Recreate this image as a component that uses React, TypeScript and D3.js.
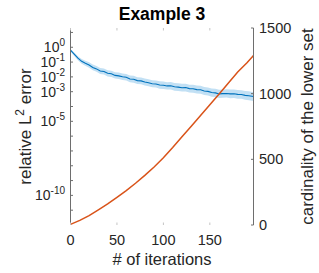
import React from 'react';
import * as d3 from 'd3';

// ---------- data ----------
const iterations = [0, 4, 8, 12, 16, 20, 24, 28, 32, 36, 40, 44, 48, 52, 56, 60, 64, 68, 72, 76, 80, 84, 88, 92, 96, 100, 104, 108, 112, 116, 120, 124, 128, 132, 136, 140, 144, 148, 152, 156, 160, 164, 168, 172, 176, 180, 184, 188, 192, 197];
// log10 of relative L2 error (mean)
const errLog10 = [-0.2, -0.47, -0.74, -0.95, -1.08, -1.2, -1.36, -1.46, -1.6, -1.64, -1.76, -1.79, -1.9, -1.93, -1.99, -2.03, -2.14, -2.16, -2.25, -2.27, -2.35, -2.4, -2.46, -2.48, -2.55, -2.56, -2.61, -2.6, -2.67, -2.69, -2.73, -2.72, -2.79, -2.8, -2.86, -2.87, -2.95, -2.98, -3.06, -3.08, -3.15, -3.13, -3.12, -3.15, -3.14, -3.18, -3.19, -3.25, -3.27, -3.33];
// half-width of the shaded band, in decades
const bandHalf = [0.08, 0.12, 0.14, 0.16, 0.17, 0.18, 0.19, 0.19, 0.2, 0.2, 0.21, 0.21, 0.21, 0.22, 0.22, 0.22, 0.23, 0.23, 0.23, 0.23, 0.24, 0.24, 0.24, 0.24, 0.25, 0.25, 0.25, 0.25, 0.26, 0.26, 0.26, 0.26, 0.26, 0.27, 0.27, 0.27, 0.27, 0.27, 0.28, 0.28, 0.28, 0.28, 0.28, 0.29, 0.29, 0.29, 0.29, 0.29, 0.3, 0.3];

const cardIters = [0, 10, 20, 30, 40, 50, 60, 70, 80, 90, 100, 110, 120, 130, 140, 150, 160, 170, 180, 190, 197];
const cardinality = [5, 35, 72, 115, 160, 210, 262, 318, 378, 442, 512, 590, 672, 752, 834, 915, 998, 1082, 1165, 1235, 1290];

const xTicks = [0, 50, 100, 150];
const leftTickExps = [0, -1, -2, -3, -5, -10];
const leftMinorExps = [1, 0, -1, -2, -3, -4, -5, -6, -7, -8, -9, -10, -11];
const rightTicks = [0, 500, 1000, 1500];

const title = 'Example 3';
const xLabel = '# of iterations';
const rightLabel = 'cardinality of the lower set';

// ---------- layout ----------
const W = 319, H = 273;
const L = 70.5, R = 253.5, T = 28, B = 225;
const FONT = '"Liberation Sans", Arial, Helvetica, sans-serif';
const TXT = '#262626';
const AX = '#6e6e6e';
const BLUE = '#0072BD';
const BAND = '#c2e0f4';
const ORANGE = '#D95319';

export default function App() {
  const x = d3.scaleLinear().domain([0, 197]).range([L, R]);
  const yL = d3.scaleLog().domain([1e-12, Math.pow(10, 1.3)]).range([B, T]);
  const yR = d3.scaleLinear().domain([0, 1500]).range([B, T]);

  const errPts = iterations.map((it, i) => ({ it, m: errLog10[i], h: bandHalf[i] }));
  const band = d3.area<{ it: number; m: number; h: number }>()
    .x(d => x(d.it))
    .y0(d => yL(Math.pow(10, d.m - d.h)))
    .y1(d => yL(Math.pow(10, d.m + d.h)))(errPts) || '';
  const blueLine = d3.line<{ it: number; m: number; h: number }>()
    .x(d => x(d.it))
    .y(d => yL(Math.pow(10, d.m)))(errPts) || '';
  const orangeLine = d3.line<number>()
    .x((_, i) => x(cardIters[i]))
    .y(d => yR(d))(cardinality) || '';

  return (
    <svg width={W} height={H} style={{ position: 'absolute', left: 0, top: 0, background: '#fff' }} fontFamily={FONT}>
      <rect x={0} y={0} width={W} height={H} fill="#fff" />
      {/* band & lines */}
      <path d={band} fill={BAND} stroke="none" />
      <path d={blueLine} fill="none" stroke={BLUE} strokeWidth={1.1} />
      <path d={orangeLine} fill="none" stroke={ORANGE} strokeWidth={1.5} />

      {/* axes lines */}
      <line x1={L} x2={L} y1={T} y2={B} stroke={AX} strokeWidth={1} />
      <line x1={R} x2={R} y1={T} y2={B} stroke={AX} strokeWidth={1} />

      {/* x ticks (top & bottom, faint) */}
      {xTicks.map(t => (
        <g key={'xt' + t}>
          <line x1={x(t)} x2={x(t)} y1={B} y2={B - 2.5} stroke="#c4c4c4" />
          <line x1={x(t)} x2={x(t)} y1={T} y2={T + 2.5} stroke="#c4c4c4" />
          <text x={x(t)} y={245} textAnchor="middle" fontSize={14.5} fill={TXT}>{t}</text>
        </g>
      ))}

      {/* left ticks */}
      {leftMinorExps.map(e => (
        <line key={'lm' + e} x1={L} x2={L + 2.5} y1={yL(Math.pow(10, e))} y2={yL(Math.pow(10, e))} stroke={AX} />
      ))}
      {leftTickExps.map(e => (
        <text key={'lt' + e} x={65} y={yL(Math.pow(10, e)) + 5} textAnchor="end" fontSize={14} fill={TXT}>
          <tspan>10</tspan>
          <tspan dy={-6} fontSize={10}>{String(e)}</tspan>
        </text>
      ))}

      {/* right ticks */}
      {rightTicks.map(t => (
        <g key={'rt' + t}>
          <line x1={R} x2={R - 2.5} y1={yR(t)} y2={yR(t)} stroke={AX} />
          <text x={259} y={yR(t) + 5} textAnchor="start" fontSize={14.5} fill={TXT}>{t}</text>
        </g>
      ))}

      {/* title & labels */}
      <text x={(L + R) / 2} y={20} textAnchor="middle" fontSize={17.5} fontWeight="bold" fill="#000">{title}</text>
      <text x={(L + R) / 2} y={265} textAnchor="middle" fontSize={16.5} fill={TXT}>{xLabel}</text>
      <text transform={`translate(31,${(T + B) / 2}) rotate(-90)`} textAnchor="middle" fontSize={17} fill={TXT}>
        <tspan>relative L</tspan>
        <tspan dy={-7} fontSize={12}>2</tspan>
        <tspan dy={7}> error</tspan>
      </text>
      <text transform={`translate(313,${(T + B) / 2}) rotate(-90)`} textAnchor="middle" fontSize={17} fill={TXT}>{rightLabel}</text>
    </svg>
  );
}
